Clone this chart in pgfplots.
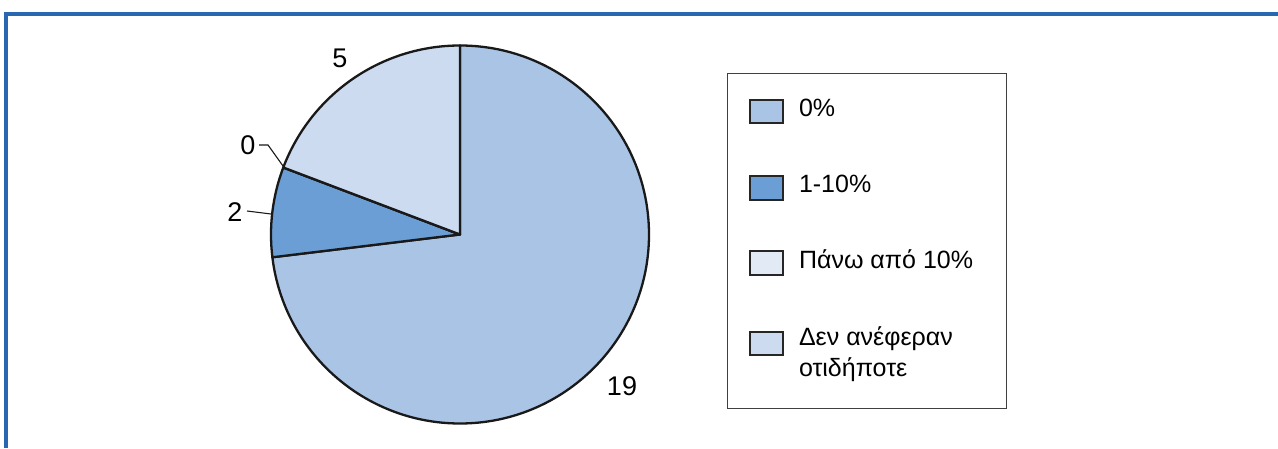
\documentclass[border=0pt]{standalone}
\usepackage{fontspec}
\setmainfont{Liberation Sans}
\usepackage{pgfplots}
\usepackage{pgfplotstable}
\pgfplotsset{compat=1.18}
\definecolor{cA}{RGB}{169,196,228}
\definecolor{cB}{RGB}{106,158,212}
\definecolor{cC}{RGB}{226,234,246}
\definecolor{cD}{RGB}{204,219,240}
\definecolor{frame}{RGB}{42,103,177}
\tikzset{lbl/.style={font=\fontsize{25bp}{30bp}\selectfont, inner sep=0pt, outer sep=0pt},
         pl/.style={font=\fontsize{27bp}{32bp}\selectfont, inner sep=0pt, outer sep=0pt}}
\pgfplotstableread{
value
19
2
0
5
}\piedata
\pgfplotstablegetelem{0}{value}\of\piedata\pgfmathsetmacro\vA{\pgfplotsretval}
\pgfplotstablegetelem{1}{value}\of\piedata\pgfmathsetmacro\vB{\pgfplotsretval}
\pgfplotstablegetelem{2}{value}\of\piedata\pgfmathsetmacro\vC{\pgfplotsretval}
\pgfplotstablegetelem{3}{value}\of\piedata\pgfmathsetmacro\vD{\pgfplotsretval}
\pgfmathsetmacro\tot{\vA+\vB+\vC+\vD}
\pgfmathsetmacro\aA{90}
\pgfmathsetmacro\aB{\aA-360*\vA/\tot}
\pgfmathsetmacro\aC{\aB-360*\vB/\tot}
\pgfmathsetmacro\aD{\aC-360*\vC/\tot}
\pgfmathsetmacro\aE{\aD-360*\vD/\tot}
\begin{document}
\begin{tikzpicture}
\begin{axis}[
  width=1278bp, height=448bp, scale only axis,
  xmin=0, xmax=1278, ymin=0, ymax=448,
  hide axis, clip=false,
]
% frame
\draw[frame, line width=4bp] (axis cs:4,433.5) -- (axis cs:1278,433.5);
\draw[frame, line width=4bp] (axis cs:6,435.5) -- (axis cs:6,0);
% pie
\filldraw[fill=cA, draw=black!90, line width=2.3bp, line join=round] (axis cs:460,213.5) -- +(\aA:189bp) arc[start angle=\aA, end angle=\aB, radius=189bp] -- cycle;
\filldraw[fill=cB, draw=black!90, line width=2.3bp, line join=round] (axis cs:460,213.5) -- +(\aB:189bp) arc[start angle=\aB, end angle=\aC, radius=189bp] -- cycle;
\filldraw[fill=cC, draw=black!90, line width=2.3bp, line join=round] (axis cs:460,213.5) -- +(\aC:189bp) arc[start angle=\aC, end angle=\aD, radius=189bp] -- cycle;
\filldraw[fill=cD, draw=black!90, line width=2.3bp, line join=round] (axis cs:460,213.5) -- +(\aD:189bp) arc[start angle=\aD, end angle=\aE, radius=189bp] -- cycle;
% labels
\node[pl] at (axis cs:622,62) {19};
\node[pl] at (axis cs:340,390) {5};
\node[pl] at (axis cs:235,236) {2};
\node[pl] at (axis cs:248,303) {0};
\draw[black!90, line width=1.1bp] (axis cs:247,237) -- (axis cs:271,234);
\draw[black!90, line width=1.1bp] (axis cs:259,303) -- (axis cs:268,303) -- (axis cs:283,282);
% legend
\draw[black!75, line width=1.5bp] (axis cs:727.3,374.7) rectangle (axis cs:1006.7,39.7);
\filldraw[fill=cA, draw=black!85, line width=2bp] (axis cs:750,348) rectangle (axis cs:783,324.7);
\filldraw[fill=cB, draw=black!85, line width=2bp] (axis cs:750,272) rectangle (axis cs:783,248);
\filldraw[fill=cC, draw=black!85, line width=2bp] (axis cs:750,197) rectangle (axis cs:783,173);
\filldraw[fill=cD, draw=black!85, line width=2bp] (axis cs:750,116.3) rectangle (axis cs:783,93);
\node[lbl, anchor=base west] at (axis cs:799,331.3) {0\%};
\node[lbl, anchor=base west] at (axis cs:799,255.5) {1-10\%};
\node[lbl, anchor=base west] at (axis cs:799,179.2) {Πάνω από 10\%};
\node[lbl, anchor=base west] at (axis cs:799,103) {Δεν ανέφεραν};
\node[lbl, anchor=base west] at (axis cs:799,71.3) {οτιδήποτε};
\end{axis}
\pgfresetboundingbox
\path[use as bounding box] (current axis.south west) rectangle (current axis.north east);
\end{tikzpicture}
\end{document}
